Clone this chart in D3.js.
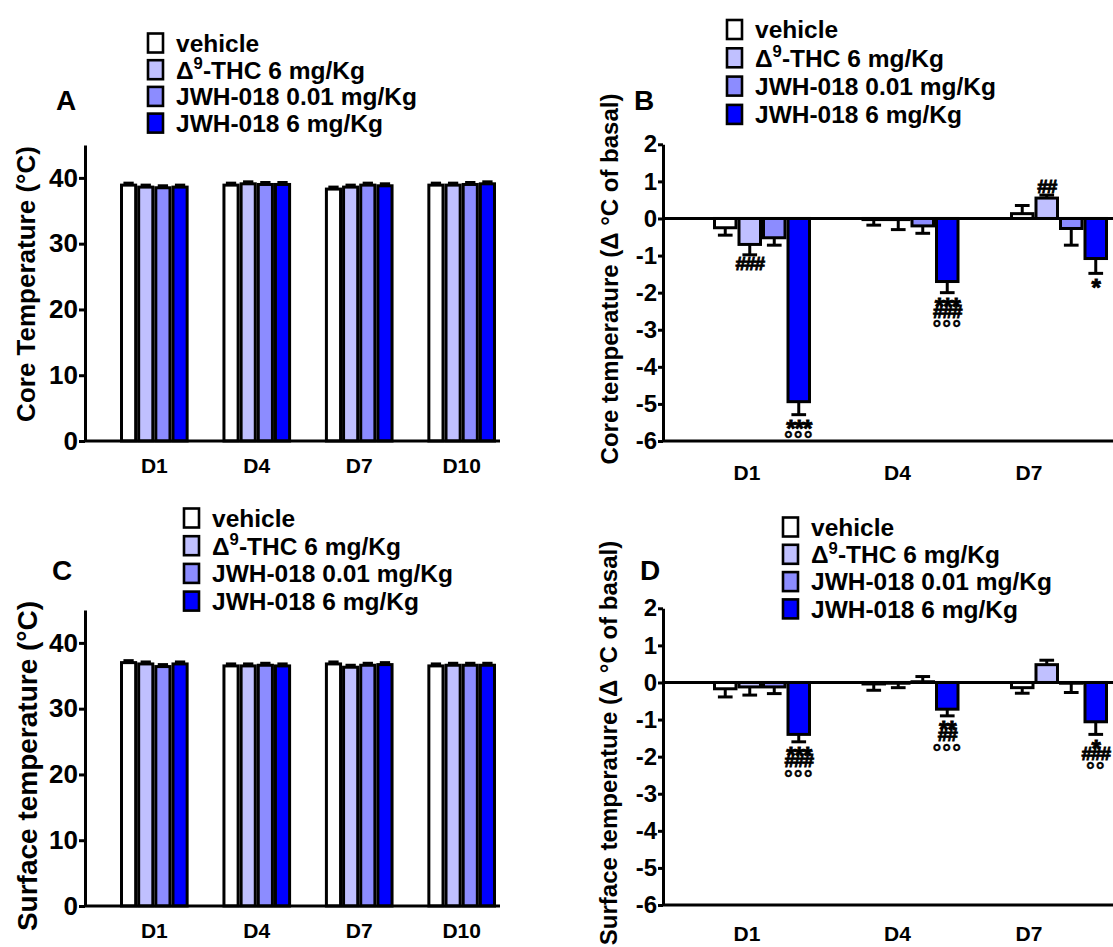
<!DOCTYPE html>
<html>
<head>
<meta charset="utf-8">
<script src="https://cdn.jsdelivr.net/npm/d3@7"></script>
<style>
  html, body { margin: 0; padding: 0; background: #fff; }
  svg text { font-family: "Liberation Sans", Arial, Helvetica, sans-serif; font-weight: bold; fill: #000; }
</style>
</head>
<body>
<script>
// ---- data ----------------------------------------------------------
const days = ["D1", "D4", "D7", "D10"];
const daysDelta = ["D1", "D4", "D7"];
const seriesNames = ["vehicle", "Δ9-THC 6 mg/Kg", "JWH-018 0.01 mg/Kg", "JWH-018 6 mg/Kg"];
const seriesColors = ["#ffffff", "#c0c0ff", "#8c8cff", "#0000ff"];

// Core temperature (°C), absolute
const coreVehicle = [38.9, 38.9, 38.3, 38.9];
const coreTHC     = [38.6, 39.1, 38.6, 38.9];
const coreJWHLow  = [38.5, 39.0, 38.9, 39.0];
const coreJWHHigh = [38.6, 39.0, 38.8, 39.1];
const coreSem     = [0.3, 0.3, 0.3, 0.3];

// Core temperature, Δ °C of basal
const dCoreVehicle = [-0.25, -0.03, 0.13];
const dCoreTHC     = [-0.70, -0.03, 0.55];
const dCoreJWHLow  = [-0.52, -0.20, -0.27];
const dCoreJWHHigh = [-4.94, -1.70, -1.08];
const dCoreSemVehicle = [0.20, 0.15, 0.22];
const dCoreSemTHC     = [0.28, 0.27, 0.08];
const dCoreSemJWHLow  = [0.20, 0.20, 0.45];
const dCoreSemJWHHigh = [0.35, 0.30, 0.40];

// Surface temperature (°C), absolute
const surfVehicle = [37.0, 36.5, 36.8, 36.5];
const surfTHC     = [36.8, 36.5, 36.3, 36.6];
const surfJWHLow  = [36.4, 36.6, 36.6, 36.6];
const surfJWHHigh = [36.8, 36.5, 36.7, 36.6];
const surfSem     = [0.3, 0.3, 0.3, 0.3];

// Surface temperature, Δ °C of basal
const dSurfVehicle = [-0.17, -0.04, -0.14];
const dSurfTHC     = [-0.12, -0.02, 0.48];
const dSurfJWHLow  = [-0.12, 0.02, -0.02];
const dSurfJWHHigh = [-1.40, -0.72, -1.06];
const dSurfSemVehicle = [0.22, 0.17, 0.15];
const dSurfSemTHC     = [0.22, 0.12, 0.12];
const dSurfSemJWHLow  = [0.18, 0.14, 0.25];
const dSurfSemJWHHigh = [0.20, 0.18, 0.34];

// significance marks: day, series index, stacked symbols
const marksCore = [
  { day: "D1", s: 1, lines: ["###"] },
  { day: "D1", s: 3, lines: ["***", "°°°"] },
  { day: "D4", s: 3, lines: ["***", "###", "°°°"] },
  { day: "D7", s: 1, lines: ["##"] },
  { day: "D7", s: 3, lines: ["*"] }
];
const marksSurf = [
  { day: "D1", s: 3, lines: ["***", "###", "°°°"] },
  { day: "D4", s: 3, lines: ["**", "##", "°°°"] },
  { day: "D7", s: 3, lines: ["*", "###", "°°"] }
];

// ---- drawing -------------------------------------------------------
const W = 1113, H = 947;
const svg = d3.select("body").append("svg").attr("width", W).attr("height", H);

const STROKE = 3;

function legend(g, x, y0, step, fontSize) {
  seriesNames.forEach((name, i) => {
    const cy = y0 + i * step;
    g.append("rect")
      .attr("x", x).attr("y", cy - 9.5).attr("width", 15).attr("height", 19)
      .attr("fill", seriesColors[i]).attr("stroke", "#000").attr("stroke-width", 2.6);
    const t = g.append("text").attr("x", x + 28).attr("y", cy).attr("dy", "0.36em")
      .attr("font-size", fontSize);
    if (i === 1) {
      t.append("tspan").text("Δ");
      t.append("tspan").attr("font-size", fontSize * 0.68).attr("dy", "-0.55em").text("9");
      t.append("tspan").attr("dy", (fontSize * 0.68 * 0.55) + "px").text("-THC 6 mg/Kg");
    } else {
      t.text(name);
    }
  });
}

function panel(cfg) {
  const g = svg.append("g");
  const y = d3.scaleLinear().domain(cfg.yDomain).range(cfg.yRange);
  const x0 = d3.scaleBand().domain(cfg.days).range(cfg.xRange).paddingInner(cfg.padInner);
  const x1 = d3.scaleBand().domain(d3.range(seriesNames.length)).range([0, x0.bandwidth()]);

  // bars
  cfg.series.forEach((vals, s) => {
    g.append("g").selectAll("rect").data(vals).join("rect")
      .attr("x", (d, i) => x0(cfg.days[i]) + x1(s) + STROKE / 2)
      .attr("width", x1.bandwidth() - STROKE)
      .attr("y", d => Math.min(y(d), y(0)))
      .attr("height", d => Math.abs(y(d) - y(0)))
      .attr("fill", seriesColors[s])
      .attr("stroke", "#000").attr("stroke-width", STROKE);
  });

  // error bars (one-sided, away from zero)
  cfg.series.forEach((vals, s) => {
    vals.forEach((v, i) => {
      const e = cfg.sem[s][i];
      const dir = v >= 0 ? 1 : -1;
      const cx = x0(cfg.days[i]) + x1(s) + x1.bandwidth() / 2;
      const yEnd = y(v + dir * e);
      const cap = x1.bandwidth() * cfg.capFrac;
      g.append("line").attr("x1", cx).attr("x2", cx).attr("y1", y(v)).attr("y2", yEnd)
        .attr("stroke", "#000").attr("stroke-width", STROKE);
      g.append("line").attr("x1", cx - cap / 2).attr("x2", cx + cap / 2).attr("y1", yEnd).attr("y2", yEnd)
        .attr("stroke", "#000").attr("stroke-width", STROKE);
    });
  });

  // significance symbols stacked beyond each error bar
  const symSize = { "*": 24, "#": 19, "°": 22 };
  const symH = { "*": 10, "#": 11.5, "°": 12 };
  const symCenter = { "*": 0.60, "#": 0.36, "°": 0.60 };
  (cfg.marks || []).forEach(m => {
    const i = cfg.days.indexOf(m.day);
    const v = cfg.series[m.s][i];
    const e = cfg.sem[m.s][i];
    const dir = v >= 0 ? 1 : -1;
    const cx = x0(m.day) + x1(m.s) + x1.bandwidth() / 2;
    let edge = y(v + dir * e) + (dir > 0 ? -3 : 3);
    m.lines.forEach(txt => {
      const c = txt[0];
      const h = symH[c];
      const centerY = dir > 0 ? edge - h / 2 : edge + h / 2;
      edge = dir > 0 ? edge - h : edge + h;
      g.append("text").attr("x", cx).attr("y", centerY + symCenter[c] * symSize[c])
        .attr("text-anchor", "middle").attr("font-size", symSize[c])
        .attr("letter-spacing", c === "°" ? 1 : -1)
        .attr("stroke", "#000").attr("stroke-width", c === "°" ? 0.4 : 0.9)
        .text(txt);
    });
  });

  // zero line for delta panels
  if (cfg.zeroLine) {
    g.append("line").attr("x1", cfg.axisX).attr("x2", cfg.xEnd).attr("y1", y(0)).attr("y2", y(0))
      .attr("stroke", "#000").attr("stroke-width", STROKE);
  }

  // bottom axis line
  g.append("line").attr("x1", cfg.axisX).attr("x2", cfg.xEnd)
    .attr("y1", y(cfg.yDomain[0])).attr("y2", y(cfg.yDomain[0]))
    .attr("stroke", "#000").attr("stroke-width", STROKE);

  // y axis (plain hyphen for negative ticks)
  const ya = g.append("g").attr("transform", `translate(${cfg.axisX},0)`)
    .call(d3.axisLeft(y).tickValues(cfg.yTicks).tickFormat(d => String(d))
      .tickSize(cfg.tickLen).tickSizeOuter(0).tickPadding(1));
  ya.select(".domain").attr("stroke-width", STROKE);
  ya.selectAll(".tick line").attr("stroke-width", STROKE);
  ya.selectAll(".tick text").attr("font-size", cfg.yTickFont)
    .attr("font-family", '"Liberation Sans", Arial, sans-serif').attr("font-weight", "bold");

  // x axis category labels
  const xa = g.append("g").attr("transform", `translate(0,${cfg.xLabelY})`)
    .call(d3.axisBottom(x0).tickSize(0).tickPadding(0));
  xa.select(".domain").remove();
  xa.selectAll(".tick text").attr("font-size", cfg.xTickFont).attr("dy", "0.36em")
    .attr("dx", (d, i) => cfg.labelShift ? cfg.labelShift[i] : 0)
    .attr("font-family", '"Liberation Sans", Arial, sans-serif').attr("font-weight", "bold");

  // y axis title
  g.append("text")
    .attr("transform", `translate(${cfg.titleX},${cfg.titleY}) rotate(-90)`)
    .attr("text-anchor", "middle").attr("dy", "0.36em")
    .attr("font-size", cfg.titleFont).text(cfg.title);

  // panel letter
  g.append("text").attr("x", cfg.letterX).attr("y", cfg.letterY).attr("dy", "0.36em")
    .attr("text-anchor", "middle").attr("font-size", 28).text(cfg.letter);

  legend(g, cfg.legendX, cfg.legendY, cfg.legendStep, 24.5);
}

// A: core temperature
panel({
  letter: "A", letterX: 66, letterY: 100,
  days: days,
  series: [coreVehicle, coreTHC, coreJWHLow, coreJWHHigh],
  sem: [coreSem, coreSem, coreSem, coreSem],
  yDomain: [0, 45], yRange: [441, 145], yTicks: [0, 10, 20, 30, 40],
  xRange: [120, 496], padInner: 0.33, axisX: 85, xEnd: 500,
  capFrac: 0.6, tickLen: 6, yTickFont: 26, xTickFont: 21, xLabelY: 465,
  title: "Core Temperature (°C)", titleX: 26, titleY: 284, titleFont: 26,
  legendX: 148, legendY: 43, legendStep: 26.7
});

// B: core temperature change
panel({
  letter: "B", letterX: 644, letterY: 100,
  days: daysDelta,
  series: [dCoreVehicle, dCoreTHC, dCoreJWHLow, dCoreJWHHigh],
  sem: [dCoreSemVehicle, dCoreSemTHC, dCoreSemJWHLow, dCoreSemJWHHigh],
  marks: marksCore,
  yDomain: [-6, 2], yRange: [441, 144.3], yTicks: d3.range(-6, 3),
  xRange: [713, 1108], padInner: 0.34, axisX: 663, xEnd: W, zeroLine: true,
  labelShift: [-15, -13, -30],
  capFrac: 0.6, tickLen: 5, yTickFont: 24, xTickFont: 21, xLabelY: 472,
  title: "Core temperature (Δ °C of basal)", titleX: 609, titleY: 279, titleFont: 24,
  legendX: 727, legendY: 29.5, legendStep: 28.3
});

// C: surface temperature
panel({
  letter: "C", letterX: 62, letterY: 570,
  days: days,
  series: [surfVehicle, surfTHC, surfJWHLow, surfJWHHigh],
  sem: [surfSem, surfSem, surfSem, surfSem],
  yDomain: [0, 45], yRange: [906, 610], yTicks: [0, 10, 20, 30, 40],
  xRange: [120, 496], padInner: 0.33, axisX: 85, xEnd: 500,
  capFrac: 0.6, tickLen: 6, yTickFont: 26, xTickFont: 21, xLabelY: 930,
  title: "Surface temperature (°C)", titleX: 27, titleY: 766, titleFont: 28,
  legendX: 184, legendY: 518, legendStep: 27.7
});

// D: surface temperature change
panel({
  letter: "D", letterX: 650, letterY: 570,
  days: daysDelta,
  series: [dSurfVehicle, dSurfTHC, dSurfJWHLow, dSurfJWHHigh],
  sem: [dSurfSemVehicle, dSurfSemTHC, dSurfSemJWHLow, dSurfSemJWHHigh],
  marks: marksSurf,
  yDomain: [-6, 2], yRange: [905, 608.3], yTicks: d3.range(-6, 3),
  xRange: [713, 1108], padInner: 0.34, axisX: 663, xEnd: W, zeroLine: true,
  labelShift: [-15, -13, -30],
  capFrac: 0.6, tickLen: 5, yTickFont: 24, xTickFont: 21, xLabelY: 933,
  title: "Surface temperature (Δ °C of basal)", titleX: 608, titleY: 743, titleFont: 24,
  legendX: 783, legendY: 527, legendStep: 27.3
});
</script>
</body>
</html>
